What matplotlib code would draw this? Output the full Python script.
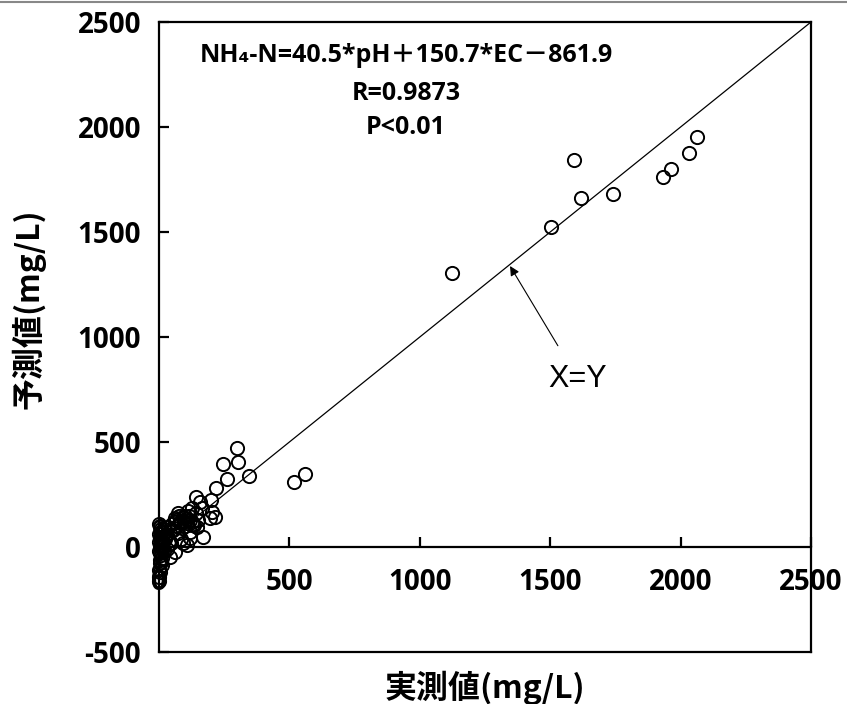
import matplotlib
matplotlib.use("Agg")
import matplotlib.pyplot as plt
from matplotlib.lines import Line2D

# ---- data (measured vs predicted NH4-N, mg/L) ----
measured = [
    1591, 1618, 1741, 1932, 1963, 2032, 2063, 1503, 1123,
    518, 560, 299, 303, 245, 345, 261, 219, 142, 199, 157,
    203, 215, 196, 165, 126, 73, 92, 119, 107, 146, 61, 35,
    169, 119, 92, 61, 42, 107, 73, 4, 0,
    0, 3, 6, 10, 14, 0, 4, 8, 12, 16, 2, 6, 10, 0, 5, 9, 13,
    2, 7, 11, 0, 4, 8, 3, 1, 5, 0, 2,
    25, 40, 55, 80, 100, 130, 150, 110, 90, 60, 45, 30, 85, 120, 140, 70,
    95, 105, 115, 125, 135, 85, 75, 65, 50, 20, 30, 18, 22,
]
predicted = [
    1843, 1662, 1681, 1762, 1800, 1876, 1952, 1524, 1305,
    310, 348, 471, 405, 395, 338, 324, 281, 238, 224, 214,
    167, 143, 138, 186, 186, 162, 143, 129, 114, 95, 119, 95,
    48, 43, 19, -24, -48, 10, 67, -76, -143,
    110, 95, 85, 75, 65, 60, 50, 40, 30, 20, 10, 0, -10, -20, -30, -40, -50,
    -60, -70, -85, -110, -120, 70, 45, 25, 5, -160, 100,
    60, 30, 80, 120, 150, 110, 130, 170, 90, 140, 20, -10, 40, 70, 160, 100,
    125, 135, 150, 120, 105, 115, 150, 130, 110, 85, 55, -20, 40,
]

eq_lines = ["NH\u2084-N=40.5*pH\uff0b150.7*EC\uff0d861.9", "R=0.9873", "P<0.01"]
x_ticks = [0, 500, 1000, 1500, 2000, 2500]
y_ticks = [-500, 0, 500, 1000, 1500, 2000, 2500]
x_label = "実測値(mg/L)"
y_label = "予測値(mg/L)"

W, H = 847, 704
fig = plt.figure(figsize=(W / 100, H / 100), dpi=100)
L, R, T, B = 159, 811, 22, 652
ax = fig.add_axes([L / W, 1 - B / H, (R - L) / W, (B - T) / H])

ax.set_xlim(0, 2500)
ax.set_ylim(-500, 2500)

ax.plot([0, 2500], [0, 2500], color="black", lw=0.9, zorder=2)
ax.plot(measured, predicted, linestyle="none", marker="o", ms=9.5,
        mfc="none", mec="black", mew=1.4, zorder=3, clip_on=False)

# spines
for s in ["left", "right", "top"]:
    ax.spines[s].set_linewidth(1.6)
ax.spines["bottom"].set_position(("data", 0))
ax.spines["bottom"].set_linewidth(1.6)
ax.axhline(-500, color="black", lw=1.6, clip_on=False, zorder=5)

tick_font = ["Open Sans", "DejaVu Sans"]
ax.set_xticks(x_ticks)
ax.set_yticks(y_ticks)
ax.set_xticklabels([str(v) for v in x_ticks], fontfamily=tick_font,
                   fontweight="bold", fontsize=20)
ax.set_yticklabels([str(v) for v in y_ticks], fontfamily=tick_font,
                   fontweight="bold", fontsize=20)
ax.tick_params(axis="x", direction="in", length=7, width=1.6, pad=15)
ax.tick_params(axis="y", direction="in", length=7, width=1.6, pad=13)

cjk = ["Noto Sans CJK JP", "DejaVu Sans"]
fig.text((R + L) / 2 / W, 1 - 688 / H, x_label, ha="center", va="center",
         fontfamily=cjk, fontweight="bold", fontsize=23)
fig.text(28 / W, 1 - 309 / H, y_label, ha="center", va="center", rotation=90,
         fontfamily=cjk, fontweight="bold", fontsize=23)

eq_font = ["Open Sans", "Noto Sans CJK JP", "DejaVu Sans"]
for txt, yp in zip(eq_lines, [56, 94, 128]):
    fig.text(406 / W, 1 - yp / H, txt, ha="center", va="center",
             fontfamily=eq_font, fontweight="bold", fontsize=18)

ax.annotate("X=Y", xy=(1346, 1338), xytext=(1606, 800),
            ha="center", va="center", fontsize=22,
            fontfamily=["Liberation Sans", "DejaVu Sans"],
            arrowprops=dict(arrowstyle="-|>", color="black", lw=0.8,
                            mutation_scale=14, shrinkA=13, shrinkB=0))

fig.add_artist(Line2D([0, 1], [1 - 2 / H, 1 - 2 / H], color="#888888", lw=1.5))

fig.savefig("out.png", dpi=100)
